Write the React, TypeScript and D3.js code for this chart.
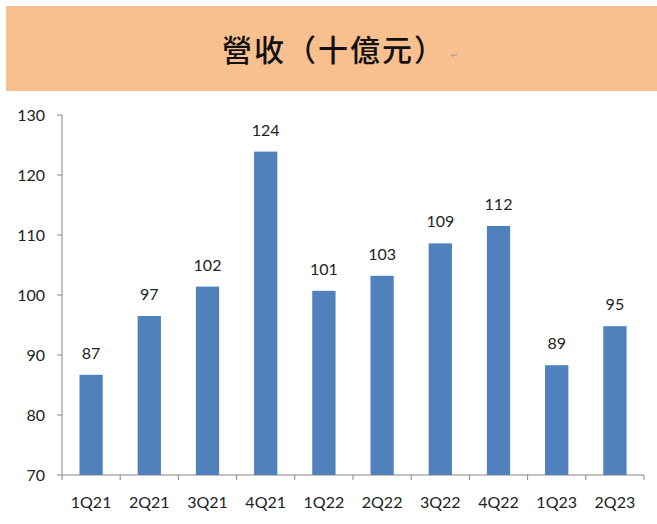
import React from 'react';
import * as d3 from 'd3';

const quarters = ['1Q21', '2Q21', '3Q21', '4Q21', '1Q22', '2Q22', '3Q22', '4Q22', '1Q23', '2Q23'];
const revenue = [86.7, 96.5, 101.4, 123.9, 100.7, 103.2, 108.6, 111.5, 88.3, 94.8];
const valueLabels = ['87', '97', '102', '124', '101', '103', '109', '112', '89', '95'];
const yTicks = [70, 80, 90, 100, 110, 120, 130];

const title = '營收（十億元）';

const App = () => {
  const width = 657;
  const height = 524;

  const plot = { left: 62, right: 644, top: 115, bottom: 475 };

  const xScale = d3
    .scaleBand()
    .domain(quarters)
    .range([plot.left, plot.right])
    .paddingInner(0.6)
    .paddingOuter(0.3);

  const band = (plot.right - plot.left) / quarters.length;

  const yScale = d3.scaleLinear().domain([70, 130]).range([plot.bottom, plot.top]);

  const font = 'Lato, "Open Sans", sans-serif';
  const axisColor = '#868686';

  return (
    <svg
      width={width}
      height={height}
      style={{ position: 'absolute', left: 0, top: 0, background: '#fff' }}
    >
      {/* title banner */}
      <rect x={6} y={6} width={width - 6} height={85} fill="#F8BF8F" />
      <text
        x={222}
        y={61}
        fontFamily='"Noto Sans CJK TC", serif'
        fontWeight={500}
        fontSize={30}
        letterSpacing={2}
        fill="#111"
      >
        {title}
      </text>
      <text x={451} y={58} fontSize={8} fill="#999" fontFamily={font}>↵</text>

      {/* y axis */}
      <line x1={plot.left} x2={plot.left} y1={plot.top} y2={plot.bottom} stroke={axisColor} />
      {yTicks.map(t => (
        <g key={t}>
          <line x1={plot.left - 5} x2={plot.left} y1={yScale(t)} y2={yScale(t)} stroke={axisColor} />
          <text
            x={45}
            y={yScale(t)}
            dy="0.35em"
            textAnchor="end"
            fontFamily={font}
            fontSize={16}
            fill="#222"
          >
            {t}
          </text>
        </g>
      ))}

      {/* x axis */}
      <line x1={plot.left} x2={plot.right} y1={plot.bottom} y2={plot.bottom} stroke={axisColor} />
      {d3.range(quarters.length + 1).map(i => (
        <line
          key={i}
          x1={plot.left + i * band}
          x2={plot.left + i * band}
          y1={plot.bottom}
          y2={plot.bottom + 5}
          stroke={axisColor}
        />
      ))}
      {quarters.map(q => (
        <text
          key={q}
          x={xScale(q)! + xScale.bandwidth() / 2}
          y={508}
          textAnchor="middle"
          fontFamily={font}
          fontSize={16}
          fill="#222"
        >
          {q}
        </text>
      ))}

      {/* bars */}
      {quarters.map((q, i) => (
        <g key={q}>
          <rect
            x={xScale(q)}
            y={yScale(revenue[i])}
            width={xScale.bandwidth()}
            height={plot.bottom - yScale(revenue[i])}
            fill="#4F81BD"
          />
          <text
            x={xScale(q)! + xScale.bandwidth() / 2}
            y={yScale(revenue[i]) - 16}
            textAnchor="middle"
            fontFamily={font}
            fontSize={16}
            fill="#222"
          >
            {valueLabels[i]}
          </text>
        </g>
      ))}
    </svg>
  );
};

export default App;
